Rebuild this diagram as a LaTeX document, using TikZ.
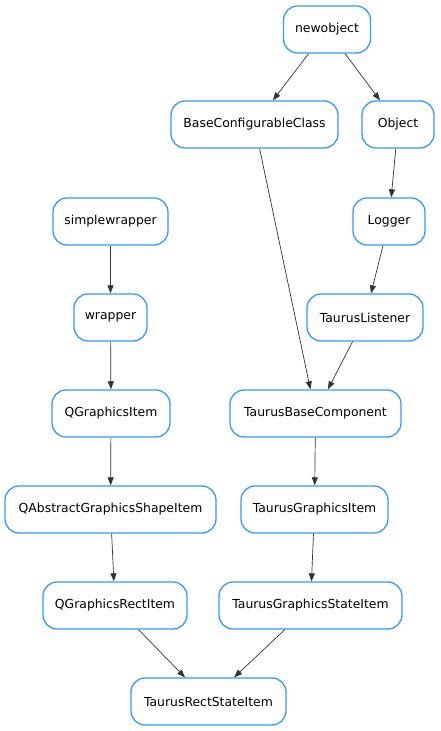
\documentclass[tikz,border=0pt]{standalone}
\usepackage{fontspec}
\setmainfont{DejaVu Sans}
\usetikzlibrary{arrows.meta}
\definecolor{nodeblue}{RGB}{51,153,255}
\begin{document}
\begin{tikzpicture}[x=1pt,y=1pt,
  cls/.style={draw=nodeblue,line width=1.3pt,rounded corners=14pt,fill=white,
    minimum height=47pt,inner xsep=6pt,font=\fontsize{12.4}{14}\selectfont},
  edge/.style={draw=black!80,line width=0.7pt,-{Triangle[length=8pt,width=6pt]}}]
\useasboundingbox (0,0) rectangle (441,731);
\node[cls,minimum width=87pt] (newobject) at (327,701.5) {newobject};
\node[cls,minimum width=167pt] (bcc) at (254.5,606.5) {BaseConfigurableClass};
\node[cls,minimum width=72pt] (object) at (398,606.5) {Object};
\node[cls,minimum width=115pt] (simplewrapper) at (110.5,509.5) {simplewrapper};
\node[cls,minimum width=72pt] (logger) at (389,509.5) {Logger};
\node[cls,minimum width=73pt] (wrapper) at (110.5,413.5) {wrapper};
\node[cls,minimum width=116pt] (listener) at (365,413.5) {TaurusListener};
\node[cls,minimum width=118pt] (qgi) at (111,317.5) {QGraphicsItem};
\node[cls,minimum width=171pt] (tbc) at (315.5,317.5) {TaurusBaseComponent};
\node[cls,minimum width=211pt] (qagsi) at (110.5,221.5) {QAbstractGraphicsShapeItem};
\node[cls,minimum width=147pt] (tgi) at (314.5,221.5) {TaurusGraphicsItem};
\node[cls,minimum width=144pt] (qgri) at (115,125.5) {QGraphicsRectItem};
\node[cls,minimum width=183pt] (tgsi) at (310.5,125.5) {TaurusGraphicsStateItem};
\node[cls,minimum width=155pt] (trsi) at (208.5,29.5) {TaurusRectStateItem};
\draw[edge] (newobject) -- (bcc);
\draw[edge] (newobject) -- (object);
\draw[edge] (bcc) -- (tbc);
\draw[edge] (object) -- (logger);
\draw[edge] (logger) -- (listener);
\draw[edge] (listener) -- (tbc);
\draw[edge] (simplewrapper) -- (wrapper);
\draw[edge] (wrapper) -- (qgi);
\draw[edge] (qgi) -- (qagsi);
\draw[edge] (qagsi) -- (qgri);
\draw[edge] (tbc) -- (tgi);
\draw[edge] (tgi) -- (tgsi);
\draw[edge] (qgri) -- (trsi);
\draw[edge] (tgsi) -- (trsi);
\end{tikzpicture}
\end{document}
